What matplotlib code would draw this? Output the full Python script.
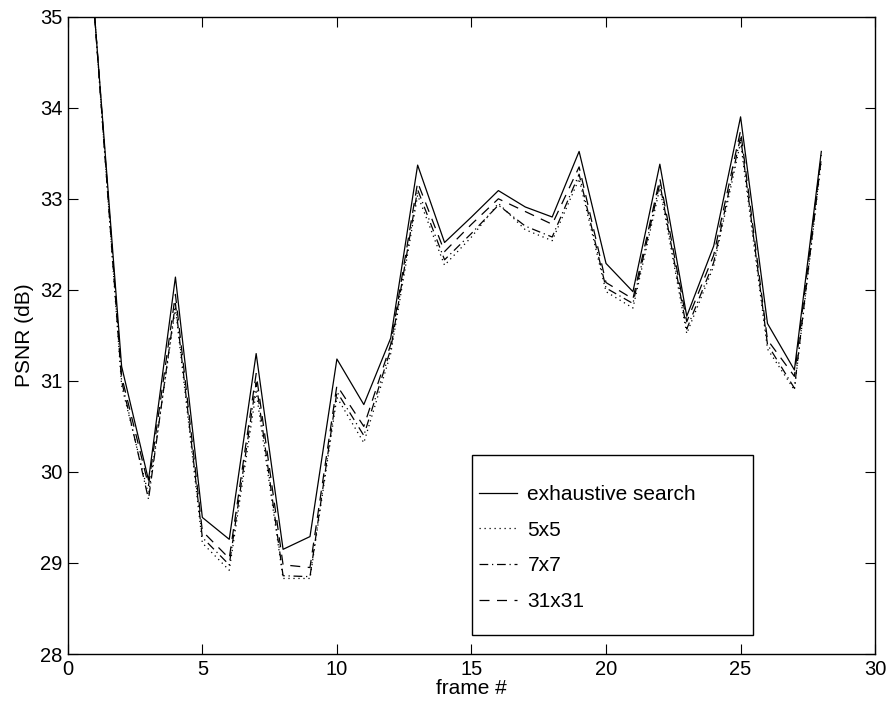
import matplotlib
matplotlib.use("Agg")
import matplotlib.pyplot as plt
from matplotlib.patches import Rectangle

plt.rcParams['font.family'] = ['Liberation Sans', 'DejaVu Sans']

frames = list(range(1, 29))
exhaustive = [35.0, 31.16, 29.91, 32.14, 29.50, 29.26, 31.30, 29.15, 29.29, 31.24,
              30.74, 31.47, 33.37, 32.52, 32.80, 33.09, 32.91, 32.80, 33.52, 32.29,
              31.98, 33.38, 31.71, 32.48, 33.90, 31.63, 31.12, 33.52]
s5x5 = [35.0, 30.95, 29.75, 31.80, 29.22, 28.92, 30.88, 28.83, 28.83, 30.82,
        30.32, 31.30, 33.04, 32.27, 32.58, 32.95, 32.66, 32.54, 33.22, 31.98,
        31.80, 33.12, 31.52, 32.26, 33.62, 31.35, 30.90, 33.42]
s7x7 = [35.0, 31.00, 29.70, 31.85, 29.28, 28.98, 30.98, 28.86, 28.85, 30.88,
        30.40, 31.35, 33.10, 32.33, 32.62, 32.93, 32.70, 32.58, 33.27, 32.02,
        31.85, 33.17, 31.57, 32.30, 33.68, 31.40, 30.92, 33.45]
s31x31 = [35.0, 31.05, 29.85, 31.95, 29.35, 29.05, 31.08, 28.98, 28.95, 30.95,
          30.50, 31.40, 33.18, 32.42, 32.72, 33.00, 32.86, 32.72, 33.35, 32.08,
          31.90, 33.22, 31.65, 32.38, 33.75, 31.45, 31.05, 33.48]
labels = ['exhaustive search', '5x5', '7x7', '31x31']

fig = plt.figure(figsize=(8.93, 7.13), dpi=100)
ax = fig.add_axes([0.0759, 0.0827, 0.9041, 0.8939])

lw = 0.9
ax.plot(frames, exhaustive, color='black', lw=lw, ls='-', label=labels[0])
ax.plot(frames, s5x5, color='black', lw=lw, ls=(0, (1, 3)), label=labels[1])
ax.plot(frames, s7x7, color='black', lw=lw, ls=(0, (7, 3, 1, 3)), label=labels[2])
ax.plot(frames, s31x31, color='black', lw=lw, ls=(0, (8, 6)), label=labels[3])

ax.set_xlim(0, 30)
ax.set_ylim(28, 35)
ax.set_xticks(range(0, 31, 5))
ax.set_yticks(range(28, 36))
ax.tick_params(direction='in', top=True, right=True, length=7, width=0.8,
               labelsize=14.5, pad=4)
for sp in ax.spines.values():
    sp.set_linewidth(1.0)
ax.set_xlabel('frame #', fontsize=15, labelpad=0)
ax.set_ylabel('PSNR (dB)', fontsize=15, labelpad=4)

rect = Rectangle((0.501, 0.030), 0.348, 0.282, transform=ax.transAxes,
                 facecolor='white', edgecolor='black', lw=1.0, zorder=3)
ax.add_patch(rect)
leg = ax.legend(loc='upper left', bbox_to_anchor=(0.501, 0.275), frameon=False,
                fontsize=15, borderaxespad=0, borderpad=0.3, handlelength=1.85,
                handletextpad=0.5, labelspacing=0.8)
leg.set_zorder(4)

fig.savefig('out.png', dpi=100)
